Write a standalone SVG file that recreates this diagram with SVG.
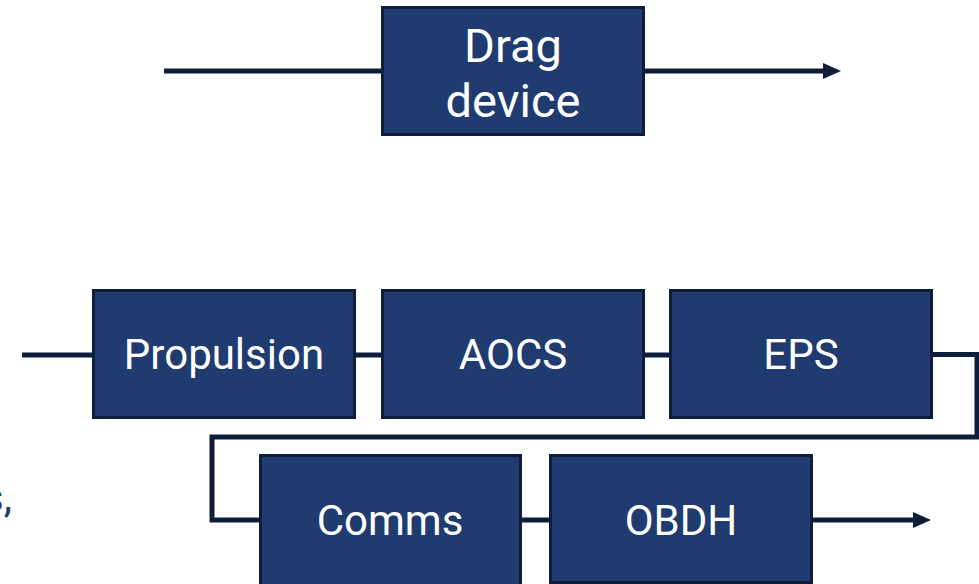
<svg xmlns="http://www.w3.org/2000/svg" width="979" height="584" viewBox="0 0 979 584">
<style>
.box{fill:#1f3b70;stroke:#0e1d3a;stroke-width:3}
.lbl{font-family:Roboto,"Liberation Sans",sans-serif;font-size:42px;fill:#ffffff;text-anchor:middle}
.big{font-size:47px}
.wire{fill:none;stroke:#0e1d3a;stroke-width:5}
</style>
<defs>
<marker id="ah" markerUnits="userSpaceOnUse" markerWidth="18" markerHeight="18" refX="0" refY="8" orient="auto" viewBox="0 0 18 16">
<path d="M0,0 L18,8 L0,16 z" fill="#0e1d3a"/>
</marker>
</defs>
<rect width="979" height="584" fill="#ffffff"/>
<g id="connectors">
<path class="wire" d="M164,71 H382"/>
<path class="wire" d="M644,71 H823" marker-end="url(#ah)"/>
<path class="wire" d="M22,355 H93"/>
<path class="wire" d="M355,355 H382"/>
<path class="wire" d="M644,355 H670"/>
<path class="wire" d="M932,354.5 H977 V437 H212 V520 H260"/>
<path class="wire" d="M521,520 H550"/>
<path class="wire" d="M812,520 H913" marker-end="url(#ah)"/>
</g>
<g id="drag">
<rect class="box" x="382.5" y="7.5" width="261" height="127"/>
<text class="lbl big" x="513" y="62">Drag</text>
<text class="lbl big" x="513" y="117">device</text>
</g>
<g id="propulsion">
<rect class="box" x="93.5" y="290.5" width="261" height="127"/>
<text class="lbl" x="224" y="369">Propulsion</text>
</g>
<g id="aocs">
<rect class="box" x="382.5" y="290.5" width="261" height="127"/>
<text class="lbl" x="513" y="369">AOCS</text>
</g>
<g id="eps">
<rect class="box" x="670.5" y="290.5" width="261" height="127"/>
<text class="lbl" x="801" y="369">EPS</text>
</g>
<g id="comms">
<rect class="box" x="260.5" y="455.5" width="260" height="130"/>
<text class="lbl" x="390" y="535">Comms</text>
</g>
<g id="obdh">
<rect class="box" x="550.5" y="455.5" width="261" height="127"/>
<text class="lbl" x="681" y="535">OBDH</text>
</g>
<text x="12" y="512" font-family="Roboto,'Liberation Sans',sans-serif" font-size="42" fill="#1f3b70" text-anchor="end">s,</text>
</svg>
